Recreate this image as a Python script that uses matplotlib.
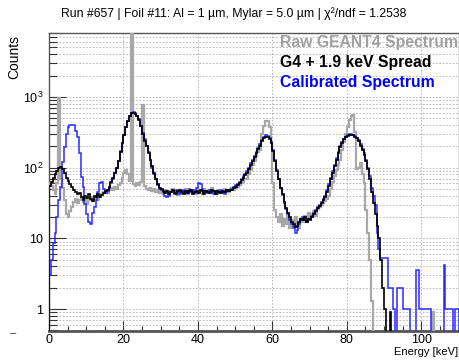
import numpy as np
import matplotlib
matplotlib.use('Agg')
import matplotlib.pyplot as plt
from matplotlib.ticker import FixedLocator, LogLocator, NullFormatter, MultipleLocator, FixedFormatter

plt.rcParams['font.family'] = ['Liberation Sans', 'DejaVu Sans']
plt.rcParams['mathtext.fontset'] = 'custom'
plt.rcParams['mathtext.rm'] = 'Liberation Sans'
plt.rcParams['mathtext.it'] = 'Liberation Sans:italic'

# 0.5 keV bins from 0 to 110 keV (each row = 5 keV)
bin_width = 0.5
n_bins = 220

raw_geant4 = [
    60, 55, 48, 42, 60, 960, 70, 52, 35, 22,          # 0-5
    20, 24, 28, 33, 36, 32, 35, 38, 33, 36,           # 5-10
    31, 35, 38, 34, 36, 39, 35, 40, 42, 45,           # 10-15
    47, 44, 49, 52, 48, 53, 50, 56, 60, 72,           # 15-20
    85, 92, 80, 65, 9000, 58, 55, 60, 57, 62,         # 20-25
    770, 55, 50, 48, 52, 47, 50, 45, 48, 44,          # 25-30
    47, 43, 49, 45, 42, 47, 50, 44, 46, 41,           # 30-35
    48, 44, 47, 50, 43, 46, 49, 44, 47, 42,           # 35-40
    48, 45, 43, 50, 46, 44, 48, 51, 45, 47,           # 40-45
    43, 49, 46, 44, 50, 47, 45, 49, 52, 48,           # 45-50
    51, 54, 56, 60, 62, 68, 70, 80, 92, 110,          # 50-55
    125, 145, 165, 180, 300, 390, 450, 460, 380, 230, # 55-60
    60, 25, 20, 17, 22, 15, 19, 16, 21, 14,           # 60-65
    18, 15, 20, 16, 14, 19, 17, 21, 18, 23,           # 65-70
    19, 22, 24, 21, 26, 28, 30, 32, 34, 36,           # 70-75
    40, 50, 62, 75, 92, 110, 130, 175, 230, 300,      # 75-80
    380, 470, 530, 560, 320, 95, 100, 115, 80, 60,    # 80-85
    25, 12, 5, 1.3, 0, 0, 0, 0, 0, 0,                 # 85-90
    0, 0, 0, 0, 0, 0, 0, 0, 0, 0,                     # 90-95
    0, 0, 0, 0, 0, 0, 0, 0, 0, 0,                     # 95-100
    0, 0, 0, 0, 0, 0, 0.9, 0, 0, 0,                   # 100-105
    0, 0, 0, 0, 0, 0, 0, 0, 0, 0,                     # 105-110
]

g4_spread = [
    55, 62, 72, 80, 90, 98, 102, 95, 85, 72,          # 0-5
    65, 58, 54, 48, 45, 42, 44, 38, 35, 40,           # 5-10
    37, 42, 36, 34, 40, 38, 42, 39, 41, 44,           # 10-15
    46, 48, 53, 62, 72, 85, 100, 125, 165, 220,       # 15-20
    290, 370, 450, 540, 590, 600, 580, 540, 470, 390, # 20-25
    300, 240, 200, 160, 130, 105, 85, 68, 58, 52,     # 25-30
    50, 46, 44, 47, 43, 45, 48, 44, 42, 46,           # 30-35
    49, 45, 43, 47, 44, 46, 48, 43, 45, 47,           # 35-40
    44, 48, 46, 43, 47, 45, 44, 48, 46, 43,           # 40-45
    47, 45, 44, 47, 45, 48, 46, 49, 48, 52,           # 45-50
    54, 57, 60, 66, 72, 78, 85, 95, 110, 125,         # 50-55
    140, 160, 185, 205, 235, 260, 275, 270, 250, 225, # 55-60
    170, 125, 90, 70, 52, 42, 33, 27, 23, 20,         # 60-65
    17, 16, 14.5, 15, 17, 19, 18, 20, 17, 19,         # 65-70
    18, 20, 22, 24, 27, 29, 32, 35, 38, 45,           # 70-75
    55, 68, 85, 105, 128, 160, 195, 225, 250, 270,    # 75-80
    280, 290, 290, 285, 275, 260, 235, 205, 175, 150, # 80-85
    125, 95, 68, 45, 32, 22, 15, 10, 5, 2,            # 85-90
    1, 0, 0, 0.9, 0, 0, 0, 0, 0, 0,                   # 90-95
    0, 0, 0, 0, 0, 0, 0, 0, 0, 0,                     # 95-100
    0, 0, 0, 0, 0, 0, 0, 0, 0, 0,                     # 100-105
    0, 0, 0, 0, 0, 0, 0, 0, 0, 0,                     # 105-110
]

calibrated = [
    3, 5, 8.6, 12, 20, 35, 53, 120, 195, 300,         # 0-5
    375, 400, 405, 400, 330, 270, 160, 74, 53, 31,    # 5-10
    22, 17, 16, 23, 28, 35, 45, 60, 63, 50,           # 10-15
    44, 47, 52, 60, 70, 85, 100, 125, 170, 220,       # 15-20
    290, 370, 460, 540, 600, 610, 585, 540, 480, 390, # 20-25
    310, 250, 205, 165, 130, 100, 82, 68, 56, 50,     # 25-30
    48, 45, 40, 38, 40, 45, 47, 43, 48, 45,           # 30-35
    42, 46, 49, 44, 46, 50, 45, 48, 44, 52,           # 35-40
    60, 58, 50, 45, 47, 44, 49, 45, 42, 47,           # 40-45
    46, 44, 49, 45, 43, 48, 46, 50, 49, 53,           # 45-50
    56, 59, 63, 68, 75, 82, 90, 100, 115, 130,        # 50-55
    148, 168, 190, 215, 245, 275, 290, 280, 260, 230, # 55-60
    175, 128, 92, 70, 52, 41, 32, 26, 22, 18,         # 60-65
    16, 14, 12, 13, 16, 19, 20, 18, 17, 19,           # 65-70
    19, 21, 23, 25, 28, 30, 33, 36, 40, 48,           # 70-75
    58, 72, 90, 110, 135, 165, 200, 230, 255, 275,    # 75-80
    285, 295, 295, 290, 280, 265, 245, 215, 185, 160, # 80-85
    130, 100, 75, 52, 40, 30, 12, 7, 5.3, 5.3,        # 85-90
    5.3, 5.3, 2, 2, 2, 1, 0, 2, 2, 2,                 # 90-95
    1, 1, 1, 1, 0, 0, 0, 3.6, 3.6, 1,                 # 95-100
    1, 1, 1, 1, 1, 0, 0, 0, 0, 0,                     # 100-105
    0, 0, 4.2, 1, 1, 1, 1, 0, 1, 1,                   # 105-110
]

legend_labels = ["Raw GEANT4 Spectrum", "G4 + 1.9 keV Spread", "Calibrated Spectrum"]
legend_colors = ["#a0a0a0", "#000000", "#0000ff"]

title = "Run #657 | Foil #11: Al = 1 \u00b5m, Mylar = 5.0 \u00b5m | \u03c7\u00b2/ndf = 1.2538"

fig = plt.figure(figsize=(4.59, 3.6), dpi=100)
ax = fig.add_axes([49/459, 29/360, 409.5/459, 298/360])
ax.set_yscale('log')
ax.set_xlim(0, 110)
ax.set_ylim(0.49, 8000)

def floor(v):
    v = np.asarray(v, dtype=float)
    return np.where(v > 0, v, 1e-3)

edges = np.arange(n_bins + 1) * bin_width
ax.stairs(floor(raw_geant4), edges, baseline=1e-3, color="#a8a8a8", lw=1.6, zorder=3)
ax.stairs(floor(calibrated), edges, baseline=1e-3, color="#2a2aff", lw=1.1, zorder=4)
ax.stairs(floor(g4_spread), edges, baseline=1e-3, color="#000000", lw=1.2, zorder=5)

# ticks
ax.xaxis.set_major_locator(MultipleLocator(20))
ax.xaxis.set_minor_locator(MultipleLocator(5))
ax.yaxis.set_major_locator(FixedLocator([1, 10, 100, 1000]))
ax.yaxis.set_major_formatter(FixedFormatter(['1', '10', '$10^{2}$', '$10^{3}$']))
ax.yaxis.set_minor_locator(LogLocator(base=10, subs=np.arange(2, 10)))
ax.yaxis.set_minor_formatter(NullFormatter())
ax.tick_params(axis='both', which='both', direction='in', colors='#333333', labelcolor='black', labelsize=9)
ax.tick_params(axis='y', which='major', length=12, width=0.8, pad=4)
ax.tick_params(axis='y', which='minor', length=6, width=0.8)
ax.tick_params(axis='x', which='major', length=7, width=0.8, pad=2)
ax.tick_params(axis='x', which='minor', length=3.5, width=0.8)

ax.grid(True, which='major', axis='x', color='#b0b0b0', linestyle=(0, (2, 2)), lw=0.6)
ax.grid(True, which='both', axis='y', color='#b0b0b0', linestyle=(0, (2, 2)), lw=0.6)
ax.set_axisbelow(True)

for s in ax.spines.values():
    s.set_color('#555555')
    s.set_linewidth(1.0)
ax.spines['bottom'].set_linewidth(2.0)

fig.text(233.5/459, 1 - 14/360, title, ha='center', va='center', fontsize=8.8)
fig.text(14/459, 1 - 35/360, "Counts", rotation=90, ha='center', va='top', fontsize=10)
fig.text(458/459, 1 - 352/360, "Energy [keV]", ha='right', va='center', fontsize=8)
fig.text(13/459, 1 - 333/360, "\u2013", ha='center', va='center', fontsize=8, color='#333333')

ys = [43, 63, 82]
for lab, col, y in zip(legend_labels, legend_colors, ys):
    fig.text(280/459, 1 - y/360, lab, ha='left', va='center', fontsize=11.3,
             fontweight='bold', color=col, zorder=10)

fig.savefig('out.png', dpi=100)
